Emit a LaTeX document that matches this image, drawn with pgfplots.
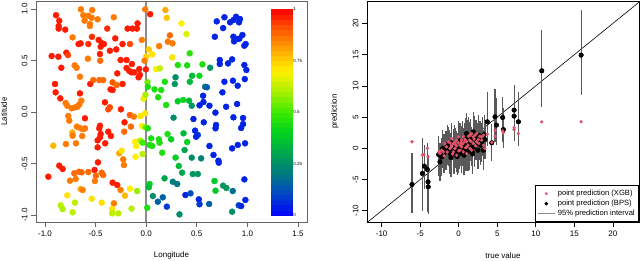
\documentclass[border=0pt]{standalone}
\usepackage{fontspec}
\setmainfont{Liberation Sans}
\usepackage{pgfplots}
\usepackage{pgfplotstable}
\pgfplotsset{compat=1.18}
\definecolor{xgb}{HTML}{DF536B}

\pgfplotstableread{
x y c
-0.645 0.997 0.86
-0.533 0.99 0.86
-0.891 0.94 0.97
-0.622 0.94 0.86
-0.572 0.935 0.86
-0.539 0.915 0.86
-0.48 0.90 0.86
-0.32 0.92 0.86
-0.01 0.997 0.86
0.039 0.95 0.97
0.19 0.99 0.8
0.204 0.915 0.76
-0.859 0.887 0.97
-0.609 0.887 0.86
-0.556 0.854 0.86
-0.556 0.835 0.86
-0.865 0.835 0.97
-0.865 0.81 0.97
-0.80 0.80 0.97
-0.385 0.81 0.95
-0.184 0.81 0.97
-0.135 0.81 0.97
-0.085 0.861 0.97
-0.092 0.81 0.97
0.349 0.86 0.7
0.398 0.757 0.66
-0.727 0.725 0.86
-0.536 0.73 0.95
-0.668 0.66 0.97
-0.648 0.667 0.97
-0.572 0.66 0.95
-0.47 0.70 0.97
-0.437 0.667 0.97
-0.45 0.634 0.97
-0.418 0.66 0.97
-0.306 0.715 0.97
-0.234 0.66 0.97
-0.16 0.66 0.92
-0.043 0.70 0.86
0.234 0.744 0.88
0.214 0.683 0.86
0.26 0.667 0.86
-0.359 0.595 0.97
-0.296 0.608 0.97
0.026 0.608 0.75
0.128 0.64 0.86
-0.934 0.544 0.97
-0.868 0.537 0.97
-0.789 0.576 0.97
-0.773 0.553 0.93
-0.576 0.518 0.86
-0.457 0.563 0.97
-0.454 0.498 0.88
-0.253 0.505 0.97
-0.194 0.505 0.97
0.059 0.56 0.72
0.0 0.54 0.74
-0.016 0.498 0.86
0.257 0.53 0.72
0.43 0.57 0.47
-0.707 0.453 0.86
-0.688 0.43 0.86
-0.839 0.43 0.97
-0.141 0.466 0.97
-0.194 0.427 0.97
-0.168 0.40 0.97
-0.145 0.385 0.97
-0.119 0.385 0.97
-0.069 0.417 0.97
-0.062 0.36 0.97
-0.075 0.337 0.97
-0.003 0.414 0.97
0.098 0.417 0.7
0.135 0.424 0.63
0.313 0.456 0.45
0.405 0.453 0.45
0.556 0.463 0.45
0.632 0.43 0.27
0.727 0.466 0.05
0.727 0.505 0.05
0.809 0.472 0.05
0.849 0.511 0.05
0.97 0.456 0.05
0.99 0.408 0.05
-0.655 0.343 0.86
-0.286 0.375 0.97
-0.901 0.272 0.97
-0.895 0.191 0.97
-0.553 0.272 0.97
-0.523 0.31 0.88
-0.464 0.31 0.88
-0.425 0.31 0.88
-0.332 0.288 0.9
-0.293 0.262 0.88
-0.234 0.272 0.97
-0.352 0.22 0.97
-0.332 0.214 0.97
0.013 0.29 0.55
0.016 0.245 0.45
0.082 0.22 0.45
0.148 0.214 0.45
0.184 0.294 0.45
0.29 0.337 0.25
0.283 0.272 0.27
0.431 0.294 0.35
0.454 0.352 0.35
0.526 0.352 0.42
0.582 0.245 0.2
0.60 0.24 0.15
0.562 0.158 0.05
0.773 0.294 0.05
0.857 0.304 0.05
0.904 0.255 0.05
0.974 0.32 0.05
0.753 0.191 0.05
-0.655 0.181 0.97
-0.849 0.133 0.97
-0.796 0.087 0.86
-0.78 0.061 0.86
-0.737 0.036 0.86
-0.704 0.045 0.86
-0.678 0.052 0.86
-0.661 0.074 0.86
-0.641 0.11 0.86
-0.408 0.094 0.97
-0.375 0.026 0.92
-0.359 0.045 0.92
-0.25 0.026 0.97
-0.026 0.129 0.68
-0.007 0.168 0.6
0.118 0.143 0.45
0.197 0.068 0.45
0.312 0.104 0.38
0.365 0.117 0.42
0.424 0.11 0.35
0.45 0.061 0.27
0.527 0.065 0.05
0.566 0.097 0.05
0.625 0.061 0.05
0.684 -0.006 0.05
0.79 0.051 0.05
0.898 0.078 0.05
-0.77 -0.039 0.86
-0.76 -0.084 0.86
-0.605 -0.061 0.97
-0.161 -0.029 0.9
-0.122 -0.045 0.86
-0.056 -0.039 0.72
-0.01 -0.013 0.72
0.27 -0.055 0.25
0.467 -0.068 0.05
0.569 -0.10 0.05
0.862 -0.052 0.05
0.957 -0.058 0.05
-0.684 -0.142 0.86
-0.645 -0.159 0.86
-0.622 -0.165 0.86
-0.605 -0.159 0.86
-0.457 -0.133 0.97
-0.464 -0.159 0.97
-0.214 -0.1 0.97
-0.151 -0.142 0.88
-0.043 -0.136 0.7
-0.007 -0.149 0.55
0.016 -0.158 0.45
0.211 -0.214 0.45
0.246 -0.265 0.4
0.369 -0.207 0.35
0.483 -0.181 0.05
0.51 -0.223 0.08
0.493 -0.24 0.05
0.69 -0.126 0.05
0.685 -0.158 0.05
0.957 -0.117 0.05
0.938 -0.155 0.05
-0.73 -0.20 0.8
-0.727 -0.23 0.86
-0.632 -0.233 0.86
-0.457 -0.246 0.97
-0.45 -0.214 0.97
-0.375 -0.191 0.97
-0.349 -0.233 0.97
-0.405 -0.304 0.97
-0.48 -0.275 0.97
-0.48 -0.343 0.97
-0.694 -0.304 0.86
-0.793 -0.311 0.86
-0.918 -0.327 0.78
-0.217 -0.191 0.88
-0.109 -0.288 0.7
-0.099 -0.33 0.7
-0.059 -0.278 0.6
-0.036 -0.298 0.5
0.049 -0.256 0.45
0.125 -0.265 0.45
0.132 -0.298 0.45
0.033 -0.32 0.45
0.059 -0.33 0.45
0.158 -0.395 0.45
0.405 -0.291 0.4
0.379 -0.369 0.3
0.625 -0.33 0.05
0.665 -0.417 0.05
0.849 -0.353 0.05
0.905 -0.32 0.05
0.977 -0.304 0.05
-0.267 -0.401 0.8
-0.243 -0.376 0.72
-0.227 -0.46 0.86
-0.22 -0.515 0.86
-0.105 -0.434 0.7
-0.036 -0.408 0.62
0.29 -0.443 0.4
0.45 -0.443 0.25
0.543 -0.45 0.22
0.714 -0.473 0.05
0.717 -0.492 0.05
-0.477 -0.489 0.97
-0.51 -0.563 0.97
-0.967 -0.628 0.97
-0.859 -0.521 0.97
-0.826 -0.553 0.97
-0.71 -0.595 0.88
-0.664 -0.58 0.88
-0.638 -0.586 0.88
-0.572 -0.583 0.88
-0.497 -0.618 0.88
-0.44 -0.589 0.88
-0.425 -0.612 0.88
-0.753 -0.667 0.86
-0.697 -0.65 0.86
-0.507 -0.67 0.86
-0.332 -0.686 0.97
-0.286 -0.709 0.97
-0.253 -0.757 0.86
-0.648 -0.748 0.8
-0.628 -0.757 0.86
-0.78 -0.809 0.72
-0.539 -0.842 0.72
-0.704 -0.88 0.62
-0.44 -0.88 0.72
-0.319 -0.887 0.86
-0.21 -0.812 0.78
-0.161 -0.744 0.7
-0.089 -0.767 0.58
-0.845 -0.906 0.62
-0.826 -0.942 0.6
-0.727 -0.974 0.62
-0.336 -0.942 0.72
-0.336 -0.984 0.62
-0.276 -0.984 0.62
-0.145 -0.938 0.62
0.01 -0.929 0.45
0.033 -0.699 0.4
0.026 -0.731 0.35
0.181 -0.644 0.3
0.263 -0.677 0.22
0.306 -0.699 0.2
0.066 -0.816 0.25
0.115 -0.871 0.15
0.164 -0.828 0.15
0.204 -0.919 0.08
0.329 -0.994 0.25
0.388 -0.806 0.05
0.438 -0.79 0.12
0.322 -0.524 0.35
0.355 -0.589 0.3
0.46 -0.602 0.27
0.51 -0.602 0.27
0.52 -0.848 0.05
0.527 -0.896 0.08
0.622 -0.893 0.15
0.675 -0.67 0.38
0.685 -0.764 0.38
0.76 -0.715 0.27
0.793 -0.738 0.27
0.855 -0.767 0.18
0.849 -0.968 0.25
0.914 -0.906 0.12
0.938 -0.913 0.05
0.97 -0.654 0.05
0.98 -0.854 0.05
0.697 0.88 0.05
0.678 0.731 0.05
0.773 0.92 0.05
0.76 0.815 0.05
0.829 0.871 0.05
0.862 0.893 0.05
0.888 0.925 0.05
0.917 0.871 0.05
0.927 0.903 0.05
0.862 0.731 0.05
0.895 0.709 0.05
0.92 0.712 0.05
0.868 0.686 0.05
0.97 0.644 0.05
0.983 0.66 0.05
0.951 0.748 0.05
}\geodata

\pgfplotstableread{
x y lo hi
-6.06 -5.79 -10.4 -0.8
-4.72 -4.03 -10.0 1.7
-4.46 -2.85 -6.5 0.6
-4.07 -3.38 -8.0 0.8
-3.98 -5.36 -10.2 -1.0
-3.95 -6.16 -10.5 -2.0
-2.60 -1.00 -4.5 2.0
-2.43 -2.17 -5.2 0.8
-2.21 -1.37 -4.4 1.6
-2.08 -0.03 -3.1 3.0
-1.90 -0.80 -3.9 2.3
-1.65 -0.30 -3.4 2.8
-1.50 0.60 -2.6 3.8
-1.35 0.24 -2.9 3.4
-1.20 -0.10 -3.3 3.0
-1.13 -0.83 -4.1 2.4
-1.00 -1.50 -4.6 1.6
-0.90 0.90 -2.3 4.1
-0.70 -0.19 -3.5 3.1
-0.60 -0.90 -4.1 2.2
-0.50 0.50 -2.7 3.7
-0.40 0.10 -3.1 3.3
-0.27 -0.57 -3.8 2.7
-0.20 -1.30 -4.3 1.7
-0.10 -0.70 -3.9 2.5
-0.05 0.24 -3.0 3.5
0.00 1.20 -1.9 4.4
0.10 -0.20 -3.3 2.9
0.17 0.77 -2.4 4.0
0.30 0.40 -2.8 3.6
0.38 -0.83 -4.0 2.3
0.45 1.10 -2.1 4.3
0.50 0.30 -2.9 3.5
0.60 -0.03 -3.2 3.2
0.70 -1.10 -4.3 2.1
0.75 0.90 -2.3 4.1
0.82 0.50 -2.7 3.7
0.90 1.60 -1.5 4.9
0.95 -0.40 -3.6 2.8
1.03 2.37 -0.8 5.6
1.12 1.30 -1.9 4.5
1.15 0.60 -2.6 3.8
1.20 -0.50 -3.7 2.7
1.30 1.80 -1.4 5.0
1.38 -0.30 -3.5 2.9
1.47 1.04 -2.1 4.2
1.55 1.50 -1.7 4.7
1.68 0.24 -2.9 3.4
1.75 -0.60 -3.8 2.6
1.80 -0.90 -4.1 2.3
1.90 2.64 -0.5 5.8
2.00 0.20 -3.0 3.4
2.10 2.00 -1.2 5.2
2.24 1.30 -1.9 4.5
2.40 0.80 -2.4 4.0
2.50 -0.30 -3.3 2.8
2.60 2.10 -1.1 5.3
2.76 1.30 -1.8 4.4
2.85 0.50 -2.6 3.6
3.00 0.90 -2.2 4.0
3.10 1.90 -1.2 5.0
3.20 -0.30 -3.5 2.9
3.30 2.20 -0.9 5.4
3.41 1.41 -1.7 4.5
3.72 4.25 0.3 9.0
4.29 0.89 -2.0 3.9
4.72 5.05 1.0 9.5
4.90 3.72 0.5 8.0
5.71 4.94 1.0 8.2
5.80 3.00 0.0 6.5
7.19 6.12 2.8 10.1
7.19 5.16 1.2 9.0
7.75 4.25 0.3 9.0
10.78 12.42 6.65 18.9
15.89 14.93 8.5 22.2
}\bpsdata

\pgfplotstableread{
x y
-6.06 1.05
-4.72 -1.09
-4.50 -1.00
-4.07 0.00
-3.98 -1.36
-2.55 -0.56
-2.43 -0.83
-2.21 -0.30
-2.00 -0.57
-1.90 -1.20
-1.78 0.77
-1.57 0.24
-1.50 -0.60
-1.35 1.04
-1.13 -0.03
-1.13 0.88
-1.00 0.20
-0.92 0.50
-0.92 1.57
-0.80 -0.90
-0.70 0.77
-0.70 -0.57
-0.48 1.04
-0.48 -0.03
-0.40 0.60
-0.30 0.40
-0.27 1.30
-0.27 -1.10
-0.05 0.88
-0.05 1.84
0.00 -0.40
0.17 0.50
0.17 -0.30
0.30 0.90
0.38 1.30
0.38 0.24
0.50 0.70
0.60 1.84
0.60 -0.57
0.70 1.00
0.82 1.41
0.90 0.10
1.03 1.04
1.03 0.24
1.03 -0.83
1.20 0.50
1.25 1.94
1.40 1.30
1.47 2.10
1.47 -0.03
1.60 1.10
1.68 2.37
1.68 -0.30
1.90 1.84
1.90 0.77
2.00 1.50
2.11 2.10
2.20 0.40
2.33 2.37
2.33 1.04
2.55 1.41
2.60 0.80
2.76 1.94
2.98 1.30
3.00 1.80
3.20 2.10
3.20 0.50
3.41 -0.03
3.72 2.27
4.29 0.95
4.72 2.90
4.72 1.95
5.71 2.80
5.80 2.50
7.19 3.30
7.19 3.00
7.75 2.38
10.78 4.25
15.89 4.25
}\xgbdata

\pgfplotsset{
  rstyle/.style={
    scale only axis, height=221pt,
    axis line style={line width=0.7pt, black!60},
    tick align=outside, tick pos=left, major tick length=5pt,
    tick style={line width=0.6pt, black!60},
    ticklabel style={font=\fontsize{8}{9}\selectfont},
    label style={font=\fontsize{8}{9}\selectfont},
    /pgf/number format/assume math mode=true,
    yticklabel style={rotate=90, anchor=south},
    xlabel style={at={(axis description cs:0.5,-0.152)}, anchor=center},
    ylabel style={at={(axis description cs:-0.118,0.5)}, anchor=center},
  }
}

\begin{document}
\begin{tikzpicture}[x=1pt,y=1pt]
\useasboundingbox (0,0) rectangle (640,260);
\begin{axis}[rstyle, at={(36pt,38pt)}, anchor=south west, width=271pt,
  xmin=-1.089, xmax=1.589, ymin=-1.068, ymax=1.078,
  xtick={-1,-0.5,0,0.5,1,1.5}, ytick={-1,-0.5,0,0.5,1},
  xticklabel style={/pgf/number format/.cd, fixed, fixed zerofill, precision=1},
  yticklabel style={/pgf/number format/.cd, fixed, fixed zerofill, precision=1},
  xlabel={Longitude}, ylabel={Latitude},
  colormap={rbmap}{rgb255=(0,0,255) rgb255=(0,70,200) rgb255=(0,120,130) rgb255=(0,165,80) rgb255=(0,210,30) rgb255=(60,235,0) rgb255=(170,240,0) rgb255=(255,240,0) rgb255=(255,170,0) rgb255=(255,90,0) rgb255=(255,0,0)},
  point meta min=0, point meta max=1,
]
\addplot[surf, shader=flat mean, mesh/cols=2, point meta=explicit, draw=none] coordinates {
(1.24,-1.00) [0.000] (1.447,-1.00) [0.000]
(1.24,-0.95) [0.025] (1.447,-0.95) [0.025]
(1.24,-0.90) [0.050] (1.447,-0.90) [0.050]
(1.24,-0.85) [0.075] (1.447,-0.85) [0.075]
(1.24,-0.80) [0.100] (1.447,-0.80) [0.100]
(1.24,-0.75) [0.125] (1.447,-0.75) [0.125]
(1.24,-0.70) [0.150] (1.447,-0.70) [0.150]
(1.24,-0.65) [0.175] (1.447,-0.65) [0.175]
(1.24,-0.60) [0.200] (1.447,-0.60) [0.200]
(1.24,-0.55) [0.225] (1.447,-0.55) [0.225]
(1.24,-0.50) [0.250] (1.447,-0.50) [0.250]
(1.24,-0.45) [0.275] (1.447,-0.45) [0.275]
(1.24,-0.40) [0.300] (1.447,-0.40) [0.300]
(1.24,-0.35) [0.325] (1.447,-0.35) [0.325]
(1.24,-0.30) [0.350] (1.447,-0.30) [0.350]
(1.24,-0.25) [0.375] (1.447,-0.25) [0.375]
(1.24,-0.20) [0.400] (1.447,-0.20) [0.400]
(1.24,-0.15) [0.425] (1.447,-0.15) [0.425]
(1.24,-0.10) [0.450] (1.447,-0.10) [0.450]
(1.24,-0.05) [0.475] (1.447,-0.05) [0.475]
(1.24,0.00) [0.500] (1.447,0.00) [0.500]
(1.24,0.05) [0.525] (1.447,0.05) [0.525]
(1.24,0.10) [0.550] (1.447,0.10) [0.550]
(1.24,0.15) [0.575] (1.447,0.15) [0.575]
(1.24,0.20) [0.600] (1.447,0.20) [0.600]
(1.24,0.25) [0.625] (1.447,0.25) [0.625]
(1.24,0.30) [0.650] (1.447,0.30) [0.650]
(1.24,0.35) [0.675] (1.447,0.35) [0.675]
(1.24,0.40) [0.700] (1.447,0.40) [0.700]
(1.24,0.45) [0.725] (1.447,0.45) [0.725]
(1.24,0.50) [0.750] (1.447,0.50) [0.750]
(1.24,0.55) [0.775] (1.447,0.55) [0.775]
(1.24,0.60) [0.800] (1.447,0.60) [0.800]
(1.24,0.65) [0.825] (1.447,0.65) [0.825]
(1.24,0.70) [0.850] (1.447,0.70) [0.850]
(1.24,0.75) [0.875] (1.447,0.75) [0.875]
(1.24,0.80) [0.900] (1.447,0.80) [0.900]
(1.24,0.85) [0.925] (1.447,0.85) [0.925]
(1.24,0.90) [0.950] (1.447,0.90) [0.950]
(1.24,0.95) [0.975] (1.447,0.95) [0.975]
(1.24,1.00) [1.000] (1.447,1.00) [1.000]
};
\addplot[scatter, only marks, mark=*, mark size=3pt,
  scatter/use mapped color={draw=mapped color, fill=mapped color},
  point meta=explicit] table[x=x, y=y, meta=c] {\geodata};
\addplot[black!45, line width=1.6pt] coordinates {(0,-1.2) (0,1.2)};
\node[anchor=west, font=\fontsize{4.5}{5}\selectfont, inner sep=0.5pt] at (axis cs:1.447,1) {1};
\node[anchor=west, font=\fontsize{4.5}{5}\selectfont, inner sep=0.5pt] at (axis cs:1.447,0.5) {0.75};
\node[anchor=west, font=\fontsize{4.5}{5}\selectfont, inner sep=0.5pt] at (axis cs:1.447,0) {0.5};
\node[anchor=west, font=\fontsize{4.5}{5}\selectfont, inner sep=0.5pt] at (axis cs:1.447,-0.5) {0.25};
\node[anchor=west, font=\fontsize{4.5}{5}\selectfont, inner sep=0.5pt] at (axis cs:1.447,-1) {0};
\end{axis}
\draw[black!60, line width=0.7pt] (36,38) rectangle (307,259);

\begin{axis}[rstyle, at={(367pt,38pt)}, anchor=south west, width=272pt,
  xmin=-11.9, xmax=23.4, ymin=-11.8, ymax=23.6,
  axis line style={line width=0.7pt, black}, tick style={line width=0.6pt, black},
  xtick={-10,-5,0,5,10,15,20}, ytick={-10,-5,0,5,10,15,20},
  xlabel={true value}, ylabel={prediction},
  legend style={at={(1,0)}, anchor=south east, draw=black, line width=0.6pt,
    font=\fontsize{7.6}{8}\selectfont, row sep=2pt, inner xsep=1.5pt, inner ysep=4pt,
    nodes={inner ysep=0.5pt, inner xsep=2.5pt, text height=5.5pt, text depth=1.5pt}},
  legend cell align=left,
]
\addlegendimage{only marks, mark=*, mark size=1.1pt, color=xgb}
\addlegendentry{point prediction (XGB)}
\addlegendimage{only marks, mark=*, mark size=1.5pt, color=black}
\addlegendentry{point prediction (BPS)}
\addlegendimage{black!45, line width=1pt}
\addlegendentry{95\% prediction interval}
\addplot[forget plot, black, line width=0.6pt] coordinates {(-13,-13) (25,25)};
\addplot[forget plot, only marks, mark=none,
  error bars/.cd, y dir=both, y explicit, error mark=none,
  error bar style={line width=1.2pt, black!65}]
  table[x=x, y=y, y error plus expr=\thisrow{hi}-\thisrow{y}, y error minus expr=\thisrow{y}-\thisrow{lo}] {\bpsdata};
\addplot[forget plot, only marks, mark=*, mark size=2.3pt, black] table[x=x, y=y] {\bpsdata};
\addplot[forget plot, only marks, mark=*, mark size=1.5pt, xgb, mark options={draw=xgb, fill=xgb}] table[x=x, y=y] {\xgbdata};
\end{axis}
\end{tikzpicture}
\end{document}
